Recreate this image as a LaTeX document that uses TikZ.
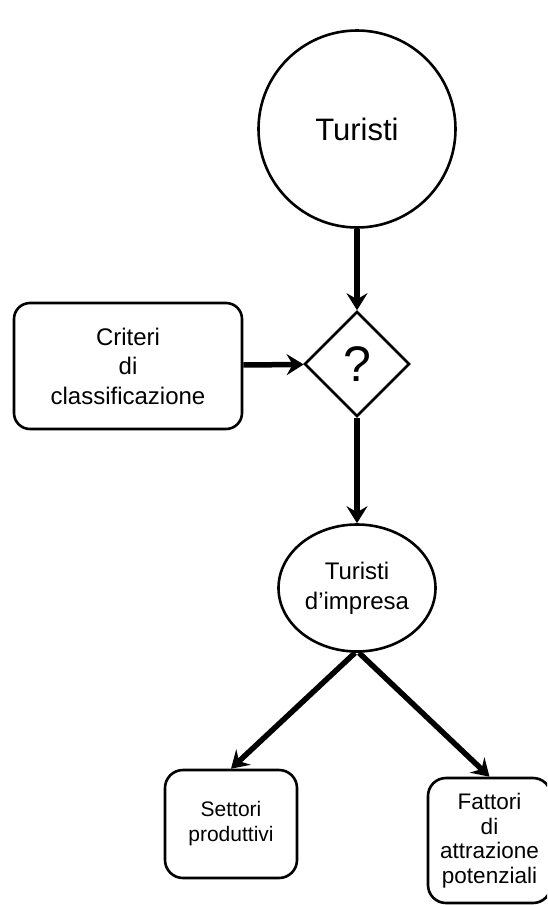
\documentclass[tikz,border=0pt]{standalone}
\usepackage{fontspec}
\setmainfont{Liberation Sans}
\usetikzlibrary{shapes.geometric,arrows.meta}
\tikzset{
  every node/.style={align=center, inner sep=0pt},
  outline/.style={draw, line width=2.6pt},
  roundbox/.style={outline, rectangle, rounded corners=16pt},
  flow/.style={line width=5.5pt, -{Stealth[length=17pt, width=21pt, inset=6pt]}},
}
\begin{document}
\begin{tikzpicture}[x=1pt, y=1pt]
  \useasboundingbox (0,0) rectangle (547,-905);
  \clip (0,0) rectangle (547,-905);

  % main population
  \node[outline, circle, minimum size=197pt, font=\fontsize{31}{36}\selectfont] (tur) at (357,-129)
    {Turisti};

  % decision point
  \node[outline, diamond, aspect=1, minimum width=105pt, minimum height=105pt,
        font=\fontsize{50}{54}\selectfont] (q) at (357,-364)
    {?};

  % classification criteria
  \node[roundbox, minimum width=228pt, minimum height=126pt, font=\fontsize{24}{29.5}\selectfont] (crit) at (128,-366)
    {Criteri\\di\\classificazione};

  % business tourists
  \node[outline, ellipse, minimum width=157pt, minimum height=127pt, font=\fontsize{24}{30}\selectfont] (ti) at (357,-588)
    {Turisti\\d’impresa};

  % outcomes
  \node[roundbox, rounded corners=18pt, minimum width=132pt, minimum height=108pt,
        font=\fontsize{21}{25}\selectfont] (set) at (231,-824)
    {Settori\\produttivi};
  \node[roundbox, rounded corners=18pt, minimum width=123pt, minimum height=125pt,
        font=\fontsize{22.5}{24.6}\selectfont] (fat) at (489.5,-840.5)
    {Fattori\\di\\attrazione\\potenziali};

  % connectors
  \draw[flow] (tur) -- (q);
  \draw[flow] (crit) -- (q);
  \draw[flow] (q) -- (ti);
  \draw[flow] ([xshift=-2pt]ti.south) -- (set.north);
  \draw[flow] ([xshift=2pt]ti.south) -- (fat.north);
\end{tikzpicture}
\end{document}
